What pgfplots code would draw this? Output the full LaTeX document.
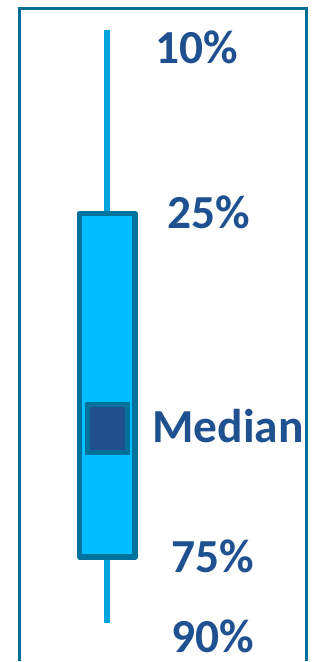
\documentclass[border=0pt]{standalone}
\usepackage{pgfplots}
\pgfplotsset{compat=1.18}
\usepgfplotslibrary{statistics}
\usepackage{fontspec}
\setmainfont{Carlito}
\definecolor{framec}{RGB}{0,111,150}
\definecolor{whisk}{RGB}{0,165,223}
\definecolor{boxfill}{RGB}{0,191,255}
\definecolor{boxborder}{RGB}{0,114,156}
\definecolor{medfill}{RGB}{33,79,141}
\definecolor{txt}{RGB}{31,80,144}
\begin{document}
\begin{tikzpicture}
\begin{axis}[
  width=312pt, height=662pt, scale only axis,
  xmin=0, xmax=312, ymin=0, ymax=662, y dir=reverse,
  hide axis, clip=false,
  boxplot/draw direction=y,
]
\path (axis cs:0,0) rectangle (axis cs:312,662);
\draw[framec, line width=2.6pt] (axis cs:19.5,662) -- (axis cs:19.5,8.7) -- (axis cs:306.8,8.7) -- (axis cs:306.8,662);
\addplot[
  boxplot prepared={
    draw position=107.5,
    lower whisker=30,
    lower quartile=213.7,
    median=429.5,
    upper quartile=558,
    upper whisker=624,
    box extend=55.5,
    whisker extend=0,
    every box/.style={draw=boxborder, fill=boxfill, line width=5.5pt, line join=round},
    every whisker/.style={draw=whisk, line width=5.7pt},
    every median/.style={draw=none},
  },
] coordinates {};
\addplot[only marks, mark=square*, mark size=20.35pt,
  mark options={draw=boxborder, fill=medfill, line width=5pt, yscale=1.194}]
  coordinates {(107.8,429.5)};
\begin{scope}[every node/.style={anchor=base, inner sep=0pt, text=txt, font=\fontsize{47.5}{57}\selectfont\bfseries}]
\node at (axis cs:197.5,64) {10\%};
\node at (axis cs:209.5,229) {25\%};
\node at (axis cs:228.5,443) {Median};
\node at (axis cs:213.5,574) {75\%};
\node at (axis cs:213.5,653.5) {90\%};
\end{scope}
\end{axis}
\end{tikzpicture}
\end{document}
